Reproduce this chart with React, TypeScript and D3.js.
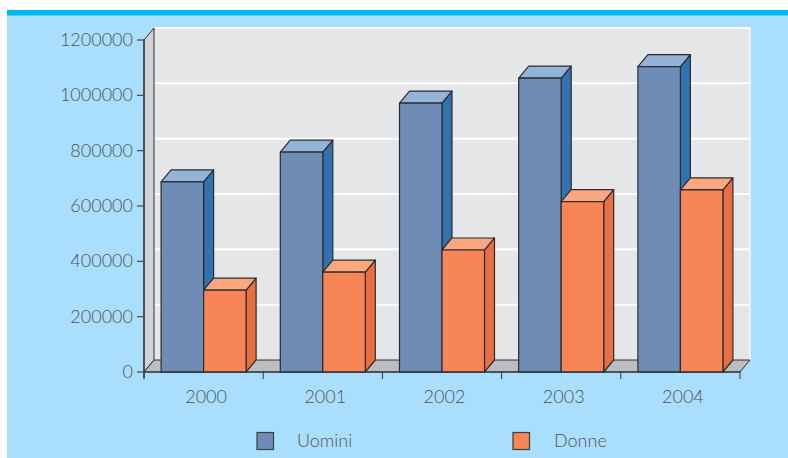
import React from "react";
import * as d3 from "d3";

const years = ["2000", "2001", "2002", "2003", "2004"];
const uomini = [687000, 795000, 972000, 1062000, 1104000];
const donne = [296000, 361000, 441000, 616000, 658000];
const yTicks = [0, 200000, 400000, 600000, 800000, 1000000, 1200000];
const seriesNames = ["Uomini", "Donne"];
const seriesColors = [
  { front: "#6f8cb7", top: "#94b3d8", side: "#3372ae" },
  { front: "#f88556", top: "#fba880", side: "#e96f42" },
];

const W = 788, H = 458;
const DX = 10, DY = -12;
const FONT = "Lato, 'Open Sans', sans-serif";
const TEXT = "#505257";
const x = d3.scaleBand().domain(years).range([144, 740]).paddingInner(0).paddingOuter(0);
const y = d3.scaleLinear().domain([0, 1200000]).range([372, 40]);
const minorTicks = d3.range(0, 1200001, 50000);
const stroke = "#2b2b30";

function Bar({ x0, w, v, c }: { x0: number; w: number; v: number; c: typeof seriesColors[0] }) {
  const t = y(v), b = y(0), x1 = x0 + w;
  const pts = (a: number[][]) => a.map((p) => p.join(",")).join(" ");
  return (
    <g stroke={stroke} strokeWidth={1.2} strokeLinejoin="round">
      <polygon fill={c.side} points={pts([[x1, t], [x1 + DX, t + DY], [x1 + DX, b + DY], [x1, b]])} />
      <polygon fill={c.top} points={pts([[x0, t], [x0 + DX, t + DY], [x1 + DX, t + DY], [x1, t]])} />
      <rect x={x0} y={t} width={w} height={b - t} fill={c.front} />
    </g>
  );
}

export default function App() {
  const left = x.range()[0], right = x.range()[1];
  const y0 = y(0), yTop = y(1200000);
  const bw = 42.5;
  const allTicks = years.map((d) => x(d)!).concat(right);
  return (
    <svg width={W} height={H} style={{ position: "fixed", left: 0, top: 0, background: "#fff", display: "block" }}>
      <rect x={7} y={15} width={W - 7} height={H - 15} fill="#a9dffc" />
      <rect x={7} y={10} width={W - 7} height={5.5} fill="#00b9f1" />
      <rect x={left + DX} y={yTop + DY} width={right - left} height={y0 - yTop} fill="#e5e6e8" stroke="#f4f8fa" strokeWidth={1.5} />
      {yTicks.slice(1).map((t) => (
        <line key={t} x1={left + DX} x2={right + DX} y1={y(t) + DY} y2={y(t) + DY} stroke="#fff" strokeWidth={2} />
      ))}
      <polygon
        points={`${left},${y0} ${left + DX},${y0 + DY} ${left + DX},${yTop + DY} ${left},${yTop}`}
        fill="#d2d3d5" stroke={stroke} strokeWidth={1}
      />
      <polygon
        points={`${left},${y0} ${left + DX},${y0 + DY} ${right + DX},${y0 + DY} ${right},${y0}`}
        fill="#bcbdc0" stroke={stroke} strokeWidth={1}
      />
      {years.map((yr, i) => {
        const cx = x(yr)! + x.bandwidth() / 2;
        return (
          <g key={yr}>
            <Bar x0={cx - bw} w={bw} v={uomini[i]} c={seriesColors[0]} />
            <Bar x0={cx} w={bw} v={donne[i]} c={seriesColors[1]} />
          </g>
        );
      })}
      <line x1={left} x2={left} y1={yTop} y2={y0 + 6} stroke="#44464b" strokeWidth={1.6} />
      {minorTicks.map((t) => (
        <line key={t} x1={left - 1} x2={left} y1={y(t)} y2={y(t)} stroke="#44464b" strokeWidth={1} />
      ))}
      {yTicks.map((t) => (
        <g key={t}>
          <line x1={left - 7} x2={left} y1={y(t)} y2={y(t)} stroke="#44464b" strokeWidth={1.2} />
          <text x={133} y={y(t) + 6} textAnchor="end" fontFamily={FONT} fontWeight={300} fontSize={18} fill={TEXT}>
            {t}
          </text>
        </g>
      ))}
      <line x1={left} x2={right} y1={y0} y2={y0} stroke={stroke} strokeWidth={1.2} />
      {allTicks.map((t) => (
        <line key={t} x1={t} x2={t} y1={y0} y2={y0 + 7} stroke="#33353a" strokeWidth={1} />
      ))}
      {years.map((yr) => (
        <text key={yr} x={x(yr)! + x.bandwidth() / 2 + 2.5} y={403} textAnchor="middle" fontFamily={FONT} fontWeight={300} fontSize={18} fill={TEXT}>
          {yr}
        </text>
      ))}
      {seriesNames.map((n, i) => {
        const lx = [257, 513][i], tx = [297, 554][i];
        return (
          <g key={n}>
            <rect x={lx} y={432.5} width={16.5} height={17} fill={seriesColors[i].front} stroke="#3a3d44" strokeWidth={1.2} />
            <text x={tx} y={447} fontFamily={FONT} fontWeight={300} fontSize={18} fill={TEXT}>{n}</text>
          </g>
        );
      })}
    </svg>
  );
}
